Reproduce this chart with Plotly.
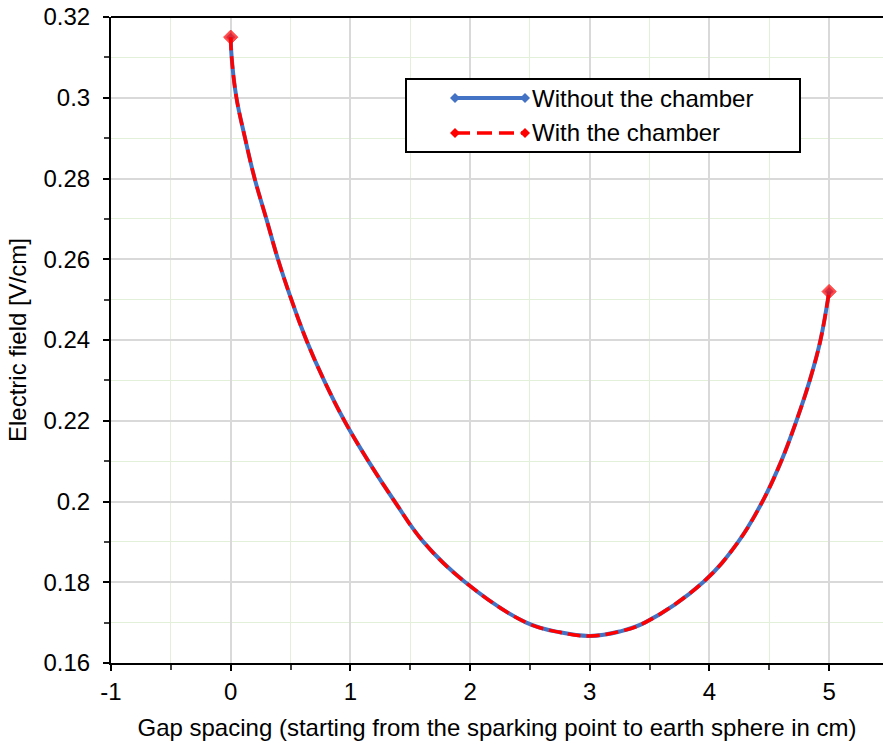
import plotly.graph_objects as go

# Data (gap in cm, electric field in V/cm)
gap_cm = [0, 0.008, 0.048, 0.12, 0.2, 0.298, 0.395, 0.507, 0.632, 0.78, 0.95,
          1.15, 1.37, 1.61, 1.96, 2.47, 2.75, 3.0, 3.25, 3.46, 3.947, 4.24,
          4.443, 4.60, 4.727, 4.838, 4.928, 5.0]
field_without = [0.315, 0.31, 0.30, 0.29, 0.28, 0.27, 0.26, 0.25, 0.24, 0.23, 0.22,
                 0.21, 0.20, 0.19, 0.18, 0.17, 0.1676, 0.1667, 0.1678, 0.17, 0.18,
                 0.19, 0.20, 0.21, 0.22, 0.23, 0.24, 0.252]
field_with = list(field_without)

series_names = ["Without the chamber", "With the chamber"]
x_ticks = [-1, 0, 1, 2, 3, 4, 5]
y_ticks = [0.16, 0.18, 0.2, 0.22, 0.24, 0.26, 0.28, 0.3, 0.32]

BLUE = "#4472C4"
RED = "#FF0000"
DASH = "13px,6px"
FONT = "Liberation Sans, Arial, sans-serif"
FS = 24

# plot area in pixels
W, H = 883, 749
L, R, T, B = 111, 883, 17, 663

n = len(gap_cm)


def end_sizes(s):
    return [s if i in (0, n - 1) else 0 for i in range(n)]


fig = go.Figure()
fig.add_trace(go.Scatter(
    x=gap_cm, y=field_without, mode="lines+markers", name=series_names[0],
    line=dict(color=BLUE, width=4, shape="spline", smoothing=1.1),
    marker=dict(symbol="diamond", size=end_sizes(7), color=BLUE, line=dict(width=0)),
    showlegend=False))
fig.add_trace(go.Scatter(
    x=gap_cm, y=field_with, mode="lines+markers", name=series_names[1],
    line=dict(color=RED, width=3.5, dash=DASH, shape="spline", smoothing=1.1),
    marker=dict(symbol="diamond", size=end_sizes(11), color=RED,
                line=dict(width=1, color=RED)),
    showlegend=False))


def px(xp):
    return (xp - L) / (R - L)


def py(yp):
    return (B - yp) / (B - T)


shapes = []
# top frame line
shapes.append(dict(type="line", xref="paper", yref="paper", x0=0, x1=1, y0=1, y1=1,
                   line=dict(color="black", width=2)))
# legend box
shapes.append(dict(type="rect", xref="paper", yref="paper",
                   x0=px(406), x1=px(800), y0=py(152), y1=py(79),
                   line=dict(color="black", width=2), fillcolor="white", layer="above"))
annotations = []
rows = [(98, BLUE, None, 4), (133, RED, "15px,7px", 3.5)]
for (ry, col, dash, w), name in zip(rows, series_names):
    ln = dict(color=col, width=w)
    if dash:
        ln["dash"] = dash
    shapes.append(dict(type="line", xref="paper", yref="paper", x0=px(455), x1=px(525),
                       y0=py(ry), y1=py(ry), line=ln, layer="above"))
    for cx in (455, 525):
        d = 5
        path = (f"M {px(cx - d)} {py(ry)} L {px(cx)} {py(ry - d)} "
                f"L {px(cx + d)} {py(ry)} L {px(cx)} {py(ry + d)} Z")
        shapes.append(dict(type="path", xref="paper", yref="paper", path=path,
                           fillcolor=col, line=dict(color=col, width=0), layer="above"))
    annotations.append(dict(xref="paper", yref="paper", x=px(530), y=py(ry),
                            xanchor="left", yanchor="middle", showarrow=False,
                            text=name, font=dict(family=FONT, size=FS, color="black")))

fig.update_layout(
    width=W, height=H,
    margin=dict(l=L, r=W - R, t=T, b=H - B),
    paper_bgcolor="white", plot_bgcolor="white",
    font=dict(family=FONT, size=FS, color="black"),
    shapes=shapes, annotations=annotations,
    xaxis=dict(
        range=[-1, 5.45], tickvals=x_ticks, ticktext=[str(v) for v in x_ticks],
        showline=True, linecolor="black", linewidth=2,
        ticks="outside", ticklen=6, tickcolor="black", tickwidth=1.5,
        showgrid=True, gridcolor="#D9D9D9", gridwidth=2, zeroline=False,
        minor=dict(dtick=0.5, tick0=0, ticks="outside", ticklen=5, tickcolor="#404040",
                   showgrid=True, gridcolor="#E2EFD9", gridwidth=1),
        tickfont=dict(family=FONT, size=FS),
        title=dict(text="Gap spacing (starting from the sparking point to earth sphere in cm)",
                   font=dict(family=FONT, size=FS), standoff=15),
    ),
    yaxis=dict(
        range=[0.16, 0.32], tickvals=y_ticks, ticktext=[f"{v:g}" for v in y_ticks],
        showline=True, linecolor="black", linewidth=2,
        ticks="outside", ticklen=6, tickcolor="black", tickwidth=1.5,
        ticklabelstandoff=8,
        showgrid=True, gridcolor="#D9D9D9", gridwidth=2, zeroline=False,
        minor=dict(dtick=0.01, tick0=0.16, ticks="outside", ticklen=5, tickcolor="#404040",
                   showgrid=True, gridcolor="#E2EFD9", gridwidth=1),
        tickfont=dict(family=FONT, size=FS),
        title=dict(text="Electric field [V/cm]", font=dict(family=FONT, size=FS), standoff=10),
    ),
)

fig.write_html("out.html")
